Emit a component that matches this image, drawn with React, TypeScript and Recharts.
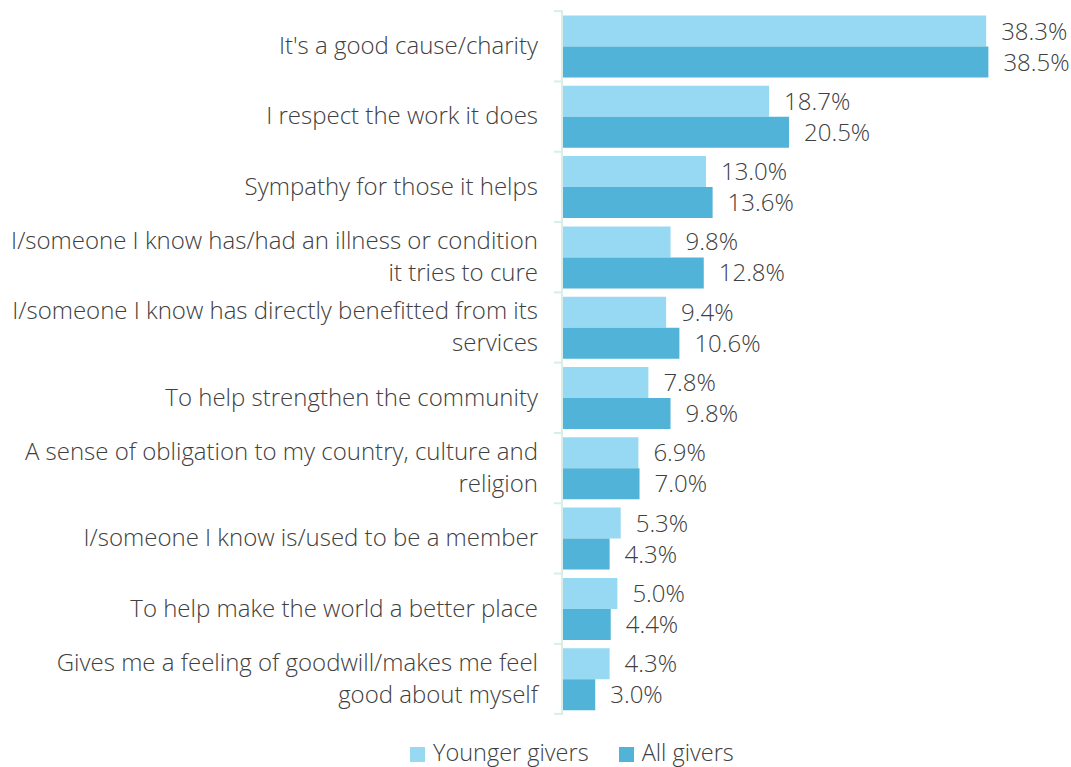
import { BarChart, Bar, XAxis, YAxis, LabelList, Legend } from "recharts";

const categories = [
  "It's a good cause/charity",
  "I respect the work it does",
  "Sympathy for those it helps",
  "I/someone I know has/had an illness or condition\nit tries to cure",
  "I/someone I know has directly benefitted from its\nservices",
  "To help strengthen the community",
  "A sense of obligation to my country, culture and\nreligion",
  "I/someone I know is/used to be a member",
  "To help make the world a better place",
  "Gives me a feeling of goodwill/makes me feel\ngood about myself",
];
const youngerGivers = [38.3, 18.7, 13.0, 9.8, 9.4, 7.8, 6.9, 5.3, 5.0, 4.3];
const allGivers = [38.5, 20.5, 13.6, 12.8, 10.6, 9.8, 7.0, 4.3, 4.4, 3.0];

const data = categories.map((name, i) => ({
  name,
  younger: youngerGivers[i],
  all: allGivers[i],
}));

const LIGHT = "#97d8f3";
const DARK = "#52b3d8";
const TEXT = "#404040";
const AXIS = "#d8eee6";
const FONT = "'Open Sans', sans-serif";
const FS = 24;
const FW = 300;
const BAND = 70;

const CategoryTick = (props: any) => {
  const { x, y, payload, index } = props;
  const lines: string[] = String(payload.value).split("\n");
  const lh = 32;
  const start = y - 2 - ((lines.length - 1) * lh) / 2;
  return (
    <g>
      <line x1={x} x2={x + 9} y1={y - BAND / 2} y2={y - BAND / 2} stroke={AXIS} strokeWidth={2} />
      {index === categories.length - 1 && (
        <line x1={x} x2={x + 9} y1={y + BAND / 2} y2={y + BAND / 2} stroke={AXIS} strokeWidth={2} />
      )}
      <text x={x - 16} y={start} textAnchor="end" dominantBaseline="central" fill={TEXT} fontSize={FS} fontWeight={FW} fontFamily={FONT}>
        {lines.map((l, i) => (
          <tspan key={i} x={x - 16} dy={i === 0 ? 0 : lh}>
            {l}
          </tspan>
        ))}
      </text>
    </g>
  );
};

const LegendContent = () => (
  <div style={{ display: "flex", justifyContent: "flex-start", paddingLeft: 410, gap: 30, fontFamily: FONT, fontSize: 23.5, fontWeight: FW, color: TEXT, lineHeight: "28px" }}>
    {[
      { label: "Younger givers", color: LIGHT },
      { label: "All givers", color: DARK },
    ].map((e) => (
      <div key={e.label} style={{ display: "flex", alignItems: "center" }}>
        <span style={{ width: 15, height: 15, background: e.color, display: "inline-block", marginRight: 8, marginTop: 4 }} />
        {e.label}
      </div>
    ))}
  </div>
);

const fmt = (v: any) => `${Number(v).toFixed(1)}%`;

export default function App() {
  return (
    <>
      <style>{`body{margin:0;overflow:hidden}`}</style>
      <BarChart
        width={1071}
        height={767}
        data={data}
        layout="vertical"
        margin={{ top: 11, right: 66, bottom: 25, left: 0 }}
        barCategoryGap={4.5}
        barGap={0}
      >
        <XAxis type="number" domain={[0, 40]} hide />
        <YAxis
          type="category"
          dataKey="name"
          width={562}
          axisLine={{ stroke: AXIS, strokeWidth: 2 }}
          tickLine={false}
          tick={<CategoryTick />}
          interval={0}
        />
        <Legend verticalAlign="bottom" content={<LegendContent />} wrapperStyle={{ bottom: 1 }} />
        <Bar dataKey="younger" name="Younger givers" fill={LIGHT} isAnimationActive={false}>
          <LabelList dataKey="younger" position="right" offset={15} formatter={fmt} fill={TEXT} fontSize={FS} fontWeight={FW} fontFamily={FONT} />
        </Bar>
        <Bar dataKey="all" name="All givers" fill={DARK} isAnimationActive={false}>
          <LabelList dataKey="all" position="right" offset={15} formatter={fmt} fill={TEXT} fontSize={FS} fontWeight={FW} fontFamily={FONT} />
        </Bar>
      </BarChart>
    </>
  );
}
